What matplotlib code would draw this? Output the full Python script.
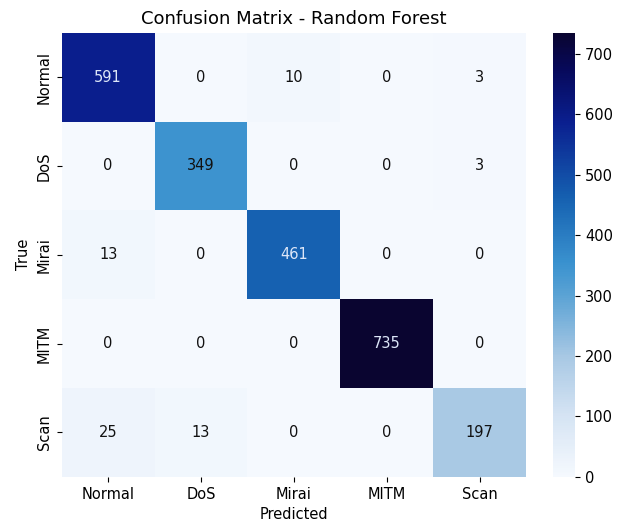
import matplotlib
matplotlib.use("Agg")
import matplotlib.pyplot as plt
from matplotlib.colors import LinearSegmentedColormap
import seaborn as sns
import numpy as np

# class names and confusion matrix counts
labels = ["Normal", "DoS", "Mirai", "MITM", "Scan"]
row_normal = [591, 0, 10, 0, 3]
row_dos = [0, 349, 0, 0, 3]
row_mirai = [13, 0, 461, 0, 0]
row_mitm = [0, 0, 0, 735, 0]
row_scan = [25, 13, 0, 0, 197]

cm = np.array([row_normal, row_dos, row_mirai, row_mitm, row_scan])

# the reference "Blues" looks contrast-boosted, so rebuild it from sampled colours
cmap = LinearSegmentedColormap.from_list("blues_dark", [
    (0.0, "#f5f9fe"),
    (0.14, "#d4e3f3"),
    (0.27, "#a8c8e4"),
    (0.41, "#5aa2d4"),
    (0.48, "#3a92cf"),
    (0.63, "#1560b0"),
    (0.80, "#0a1f8f"),
    (0.92, "#07095a"),
    (1.0, "#0a0530"),
])

fig = plt.figure(figsize=(6.3, 5.28), dpi=100)
ax = fig.add_axes([0.098, 0.097, 0.737, 0.841])
cax = fig.add_axes([0.878, 0.097, 0.035, 0.841])

sns.heatmap(cm, annot=True, fmt="d", cmap=cmap, ax=ax, cbar_ax=cax,
            vmin=0, vmax=cm.max(),
            xticklabels=labels, yticklabels=labels,
            annot_kws={"fontsize": 10.5})

# text colour: light on the dark cells only
for txt, val in zip(ax.texts, cm.flatten()):
    txt.set_color("#dce6f8" if val > 400 else "#111111")

ax.set_title("Confusion Matrix - Random Forest", fontsize=13, pad=6)
ax.set_xlabel("Predicted", fontsize=10.5)
ax.set_ylabel("True", fontsize=10.5)
ax.tick_params(labelsize=10.5)
cax.tick_params(labelsize=10.5)
cax.set_yticks([0, 100, 200, 300, 400, 500, 600, 700])

fig.savefig("out.png", dpi=100)
